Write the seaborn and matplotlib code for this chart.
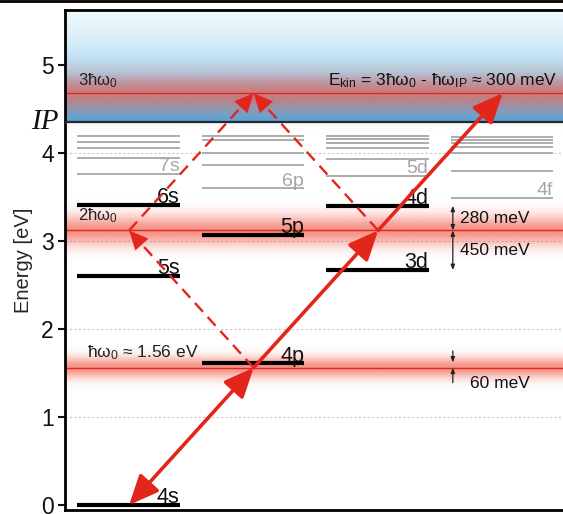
import numpy as np
import matplotlib
matplotlib.use("Agg")
import matplotlib.pyplot as plt
from matplotlib.colors import LinearSegmentedColormap, to_rgb
from matplotlib.lines import Line2D
import seaborn as sns

# ============================
# DATOS (energías en eV)
# ============================
# niveles principales (negro)
main_labels = ["4s", "5s", "6s", "4p", "5p", "3d", "4d"]
main_energies = [0.00, 2.60, 3.41, 1.61, 3.07, 2.67, 3.40]
main_cols = [0, 0, 0, 1, 1, 2, 2]

# niveles de Rydberg con etiqueta (gris)
grey_labels = ["7s", "6p", "5d", "4f"]
grey_energies = [3.76, 3.60, 3.74, 3.49]
grey_cols = [0, 1, 2, 3]

# resto de niveles de Rydberg (gris, sin etiqueta)
rydberg_s = [3.94, 4.06, 4.13, 4.19]
rydberg_p = [3.86, 4.00, 4.15, 4.19]
rydberg_d = [3.93, 4.06, 4.11, 4.16, 4.19]
rydberg_f = [3.80, 4.00, 4.07, 4.11, 4.15, 4.18]

ionization_potential = 4.35
photon_levels = [0.00, 1.56, 3.12, 4.68]
band_sigma = [0.085, 0.12, 0.15]
band_labels = [r"ħω$_0$ ≈ 1.56 eV", r"2ħω$_0$", r"3ħω$_0$"]

# camino de absorción (posición horizontal en unidades de columna)
path_x = [0.515, 1.515, 2.515, 3.515]

# desintonías
split_lo = [3.12, 2.67]
split_hi = [3.40, 3.12]
split_labels = ["280 meV", "450 meV"]
detuning_60 = [1.56, 1.62]

RED = "#e3261c"
BAND = "#f0503c"

# ============================
# ESTILO
# ============================
sns.set_style("ticks")
plt.rcParams["font.family"] = ["Liberation Sans", "DejaVu Sans"]
plt.rcParams["mathtext.fontset"] = "custom"
plt.rcParams["mathtext.rm"] = "Liberation Sans"
plt.rcParams["mathtext.it"] = "Liberation Sans:italic"

fig = plt.figure(figsize=(5.63, 5.14), dpi=100)
ax = fig.add_axes([0.1155, 0.0078, 0.8845, 0.9727])

XMAX = 4.0
YMIN, YMAX = -0.057, 5.625

# fondo azul del continuo
blue_cmap = LinearSegmentedColormap.from_list(
    "cont", ["#4ea8dd", "#86c5ea", "#b9def3", "#dceff9", "#f2f9fd"])
grad = np.linspace(0, 1, 256).reshape(-1, 1)
ax.imshow(grad, extent=[0, XMAX, ionization_potential, YMAX], origin="lower",
          aspect="auto", cmap=blue_cmap, zorder=0)

# bandas rojas de los fotones
yy = np.linspace(YMIN, YMAX, 1200)
for e, s in zip(photon_levels[1:], band_sigma):
    rgba = np.zeros((len(yy), 1, 4))
    rgba[..., :3] = to_rgb(BAND)
    rgba[:, 0, 3] = 0.62 * np.exp(-0.5 * ((yy - e) / s) ** 2)
    ax.imshow(rgba, extent=[0, XMAX, YMIN, YMAX], origin="lower",
              aspect="auto", zorder=1, interpolation="bilinear")
    ax.axhline(e, color=RED, lw=1.0, zorder=2)

# rejilla punteada
for g in [1, 2, 3, 4, 5]:
    ax.axhline(g, color="#c8c8c8", lw=0.8, ls=(0, (2, 2)), zorder=0.5)

# límite de ionización
ax.axhline(ionization_potential, color="#1d2b36", lw=1.6, zorder=3)

# niveles de Rydberg grises
for col, lv in enumerate([rydberg_s, rydberg_p, rydberg_d, rydberg_f]):
    ax.hlines(lv, col + 0.10, col + 0.92, color="#a6a6a6", lw=1.3, zorder=3)
for lab, e, col in zip(grey_labels, grey_energies, grey_cols):
    ax.hlines(e, col + 0.10, col + 0.92, color="#a6a6a6", lw=1.3, zorder=3)
    ax.text(col + 0.92, e + 0.03, lab, ha="right", va="baseline",
            fontsize=14, color="#a6a6a6", zorder=3)

# niveles principales
for lab, e, col in zip(main_labels, main_energies, main_cols):
    ax.hlines(e, col + 0.10, col + 0.92, color="black", lw=3.0, zorder=4)
    ax.text(col + 0.92, e + 0.02, lab, ha="right", va="baseline",
            fontsize=15.5, color="#111111", zorder=4)

# etiquetas de fotones
ax.text(0.18, 1.63, band_labels[0], fontsize=12.5, va="bottom", color="#222222", zorder=5)
ax.text(0.105, 3.18, band_labels[1], fontsize=12, va="bottom", color="#222222", zorder=5)
ax.text(0.105, 4.72, band_labels[2], fontsize=12, va="bottom", color="#222222", zorder=5)
ax.text(3.955, 4.72, r"E$_{\rm kin}$ = 3ħω$_0$ - ħω$_{\rm IP}$ ≈ 300 meV",
        ha="right", va="bottom", fontsize=12.5, color="#111111", zorder=5)

# flechas rojas sólidas
solid_styles = ["<|-|>", "-|>", "-|>"]
for i in range(3):
    ax.annotate("", xy=(path_x[i + 1], photon_levels[i + 1]),
                xytext=(path_x[i], photon_levels[i]),
                arrowprops=dict(arrowstyle=solid_styles[i] + ",head_length=0.95,head_width=0.42",
                                color=RED, lw=2.6, shrinkA=0, shrinkB=0,
                                mutation_scale=19),
                zorder=6)

# flechas rojas discontinuas
dashed = [((path_x[1], photon_levels[1]), (path_x[0], photon_levels[2])),
          ((path_x[0], photon_levels[2]), (path_x[1], photon_levels[3])),
          ((path_x[2], photon_levels[2]), (path_x[1], photon_levels[3]))]
for (x0, y0), (x1, y1) in dashed:
    ax.plot([x0, x1], [y0, y1], color=RED, lw=1.7, ls=(0, (5, 3)), zorder=6)
    ax.annotate("", xy=(x1, y1), xytext=(x1 - 0.12 * (x1 - x0), y1 - 0.12 * (y1 - y0)),
                arrowprops=dict(arrowstyle="-|>,head_length=0.9,head_width=0.42",
                                color=RED, lw=0.1, shrinkA=0, shrinkB=0,
                                mutation_scale=15),
                zorder=6)

# desintonías
XS = 3.115
for lo, hi, lab in zip(split_lo, split_hi, split_labels):
    ax.annotate("", xy=(XS, hi), xytext=(XS, lo),
                arrowprops=dict(arrowstyle="<|-|>,head_length=0.5,head_width=0.2",
                                color="#222222", lw=0.9, shrinkA=0, shrinkB=0,
                                mutation_scale=6), zorder=6)
    ax.text(XS + 0.06, (lo + hi) / 2, lab, va="center", fontsize=12.5, color="#111111", zorder=6)

ax.annotate("", xy=(XS, detuning_60[1]), xytext=(XS, detuning_60[1] + 0.13),
            arrowprops=dict(arrowstyle="-|>,head_length=0.5,head_width=0.2",
                            color="#222222", lw=0.9, shrinkA=0, shrinkB=0,
                            mutation_scale=6), zorder=6)
ax.annotate("", xy=(XS, detuning_60[0]), xytext=(XS, detuning_60[0] - 0.17),
            arrowprops=dict(arrowstyle="-|>,head_length=0.5,head_width=0.2",
                            color="#222222", lw=0.9, shrinkA=0, shrinkB=0,
                            mutation_scale=6), zorder=6)
ax.text(XS + 0.14, 1.38, "60 meV", va="center", fontsize=12.5, color="#111111", zorder=6)

# ejes
ax.set_xlim(0, XMAX)
ax.set_ylim(YMIN, YMAX)
ax.set_xticks([])
ax.set_yticks([0, 1, 2, 3, 4, 5])
ax.tick_params(axis="y", labelsize=16.5, length=5, width=1.5, pad=3, colors="#111111")
ax.set_ylabel("Energy [eV]", fontsize=14.5, labelpad=6)
for sp in ["left", "top", "bottom"]:
    ax.spines[sp].set_linewidth(2.0)
    ax.spines[sp].set_color("black")
ax.spines["right"].set_visible(False)

ax.text(-0.012, ionization_potential, "IP", transform=ax.get_yaxis_transform(),
        ha="right", va="center", fontsize=21, family="Liberation Serif",
        style="italic", color="#111111")

fig.add_artist(Line2D([0, 1], [0.999, 0.999], color="black", lw=2))

plt.savefig("out.png", dpi=100)
plt.close()
